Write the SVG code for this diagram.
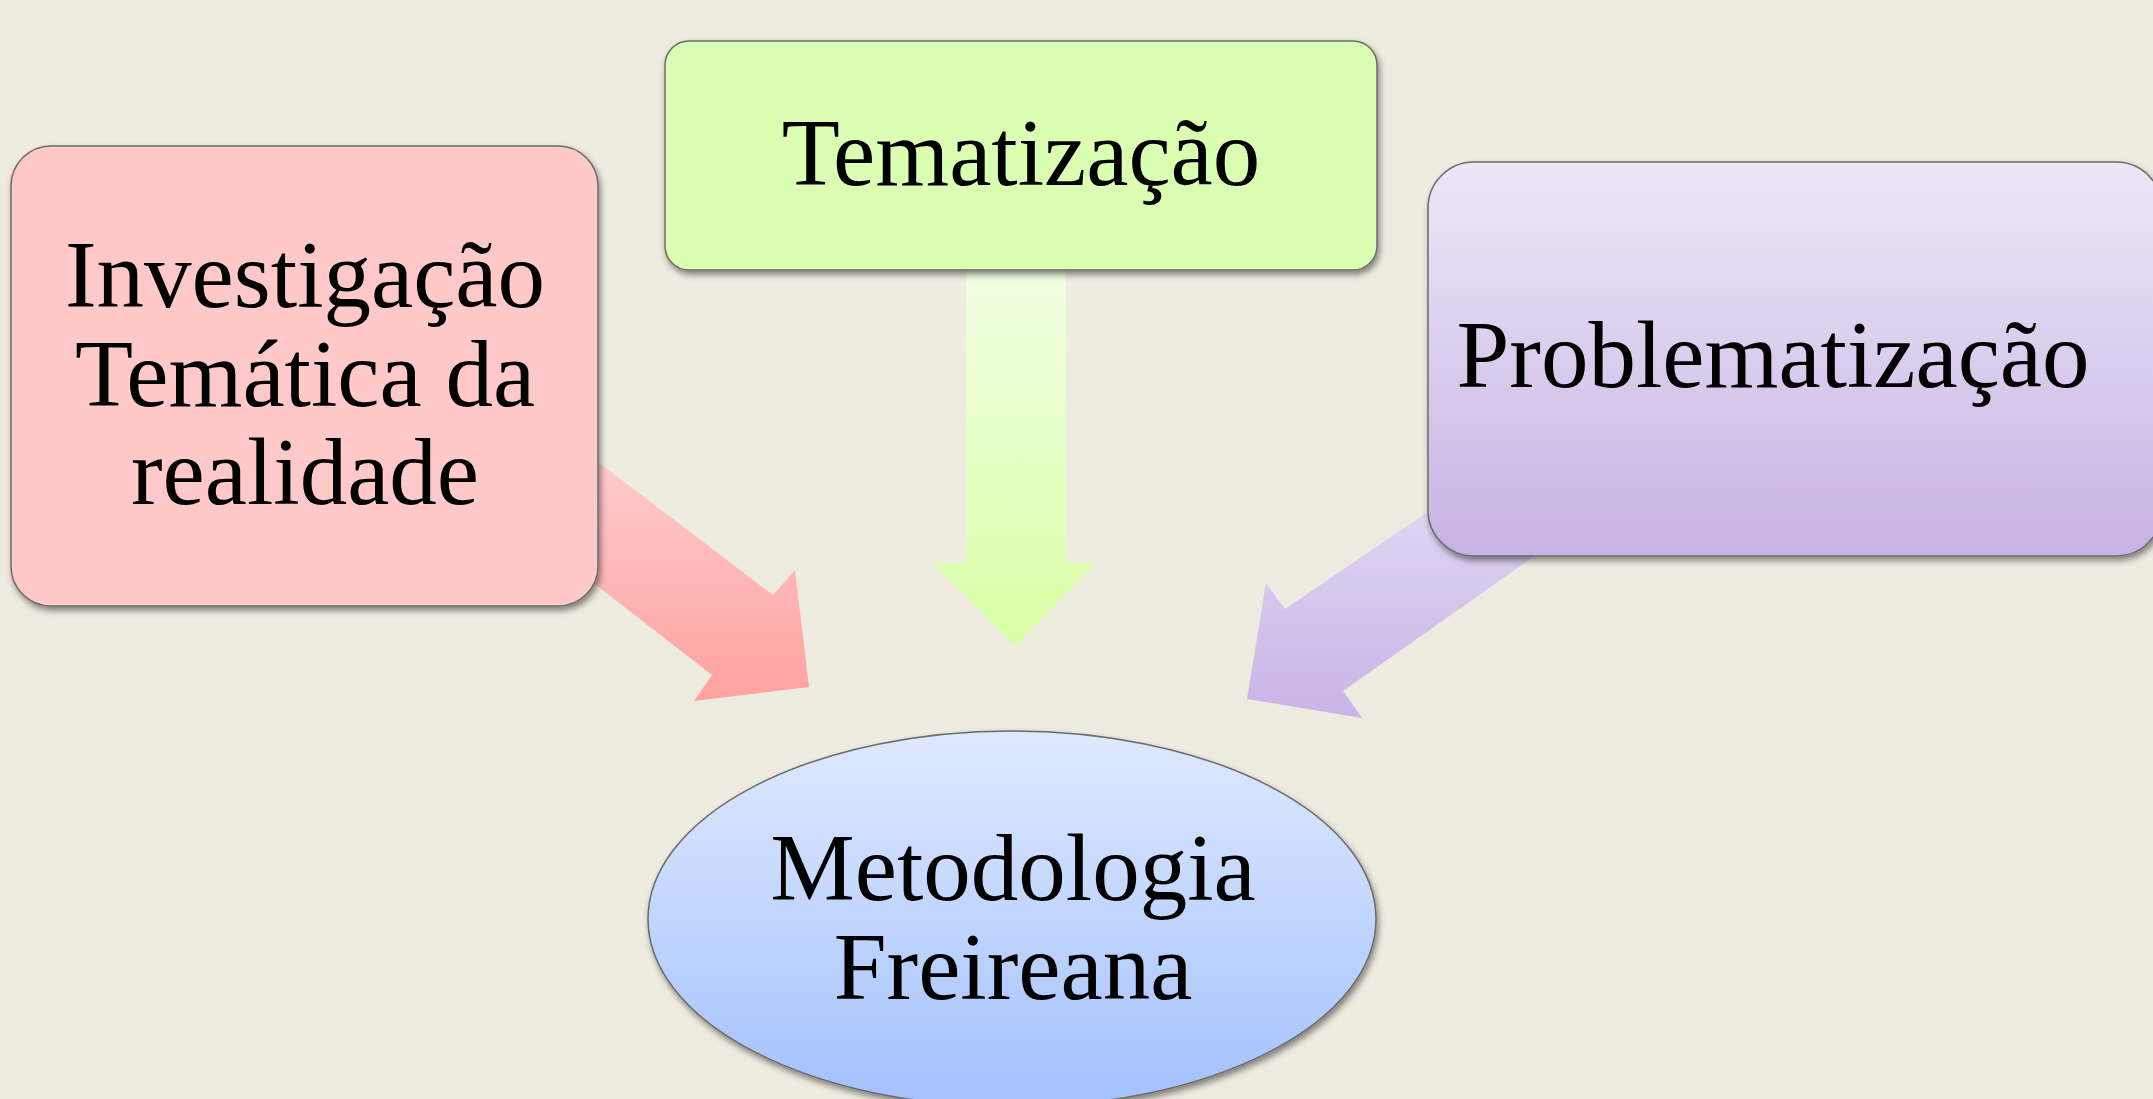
<svg xmlns="http://www.w3.org/2000/svg" width="2153" height="1099" viewBox="0 0 2153 1099">
  <style>
    .lbl { font-family: "Liberation Serif", "Times New Roman", serif; font-size: 95px; fill: #000; text-anchor: middle; }
    .box { stroke: #6b6b6b; stroke-width: 1.5; filter: url(#shadow); }
  </style>
  <defs>
    <filter id="shadow" x="-10%" y="-10%" width="125%" height="130%">
      <feDropShadow dx="2" dy="4" stdDeviation="3" flood-color="#000" flood-opacity="0.45"/>
    </filter>
    <linearGradient id="gPinkArrow" gradientUnits="userSpaceOnUse" x1="0" y1="433" x2="0" y2="701">
      <stop offset="0" stop-color="#ffd0d0"/>
      <stop offset="1" stop-color="#ffa1a1"/>
    </linearGradient>
    <linearGradient id="gGreenArrow" gradientUnits="userSpaceOnUse" x1="0" y1="270" x2="0" y2="646">
      <stop offset="0" stop-color="#f0fee2"/>
      <stop offset="1" stop-color="#d8ffa5"/>
    </linearGradient>
    <linearGradient id="gPurpleArrow" gradientUnits="userSpaceOnUse" x1="0" y1="490" x2="0" y2="718">
      <stop offset="0" stop-color="#e2d7f3"/>
      <stop offset="1" stop-color="#c8b4e6"/>
    </linearGradient>
    <linearGradient id="gPurpleBox" x1="0" y1="0" x2="0" y2="1">
      <stop offset="0" stop-color="#ede7f8"/>
      <stop offset="1" stop-color="#c7b3e3"/>
    </linearGradient>
    <linearGradient id="gBlue" x1="0" y1="0" x2="0" y2="1">
      <stop offset="0" stop-color="#dfe9fe"/>
      <stop offset="1" stop-color="#a3c1fd"/>
    </linearGradient>
  </defs>

  <rect x="0" y="0" width="2153" height="1099" fill="#eeebe0"/>

  <g id="connectors">
    <polygon points="560,433 773,595 795,570 809,687 694,701 712,675 560,557" fill="url(#gPinkArrow)"/>
    <polygon points="966,250 1066,250 1066,563 1096,563 1015,646 932,563 966,563" fill="url(#gGreenArrow)"/>
    <polygon points="1460,490 1285,609 1266,583 1247,699 1362,718 1343,691 1560,538" fill="url(#gPurpleArrow)"/>
  </g>

  <g id="node-investigacao">
    <rect class="box" x="11" y="146" width="587" height="460" rx="40" ry="40" fill="#ffc9c9"/>
    <text class="lbl" x="305" y="307">Investigação</text>
    <text class="lbl" x="305" y="406">Temática da</text>
    <text class="lbl" x="305" y="504">realidade</text>
  </g>

  <g id="node-tematizacao">
    <rect class="box" x="665" y="41" width="712" height="229" rx="24" ry="24" fill="#daffb2"/>
    <text class="lbl" x="1021" y="185">Tematização</text>
  </g>

  <g id="node-problematizacao">
    <rect class="box" x="1428" y="162" width="734" height="394" rx="46" ry="46" fill="url(#gPurpleBox)"/>
    <text class="lbl" x="1773" y="387">Problematização</text>
  </g>

  <g id="node-metodologia">
    <ellipse class="box" cx="1012" cy="919" rx="364" ry="188" fill="url(#gBlue)"/>
    <text class="lbl" x="1013" y="900">Metodologia</text>
    <text class="lbl" x="1013" y="999">Freireana</text>
  </g>
</svg>
